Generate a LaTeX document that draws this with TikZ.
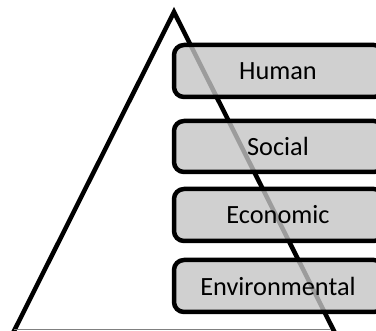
\documentclass[tikz,border=0pt]{standalone}
\usepackage{fontspec}
\setmainfont{Carlito}
\begin{document}
\begin{tikzpicture}[x=1pt,y=-1pt,
  layer/.style={draw=black,line width=4.5pt,rounded corners=10pt,fill={rgb,255:red,196;green,196;blue,196},fill opacity=0.8,text opacity=1},
  lbl/.style={font=\fontsize{26.3}{30}\selectfont,text=black}]
\useasboundingbox (0,0) rectangle (376,331);
\coordinate (apex) at (174,12);
\coordinate (bl) at (12,335);
\coordinate (br) at (336,335);
\draw[line width=4.5pt,line join=miter] (bl) -- (apex) -- (br);
\draw[gray,line width=1.5pt] (14,329.5) -- (331,329.5);
\draw[layer] (174,45) rectangle (384,97);
\draw[layer] (174,121) rectangle (384,172);
\draw[layer] (174,189) rectangle (384,241);
\draw[layer] (174,260) rectangle (384,312);
\node[lbl] (human) at (278,71) {Human};
\node[lbl] (social) at (278,146.5) {Social};
\node[lbl] (econ) at (278,215) {Economic};
\node[lbl] (env) at (278,286) {Environmental};
\end{tikzpicture}
\end{document}
